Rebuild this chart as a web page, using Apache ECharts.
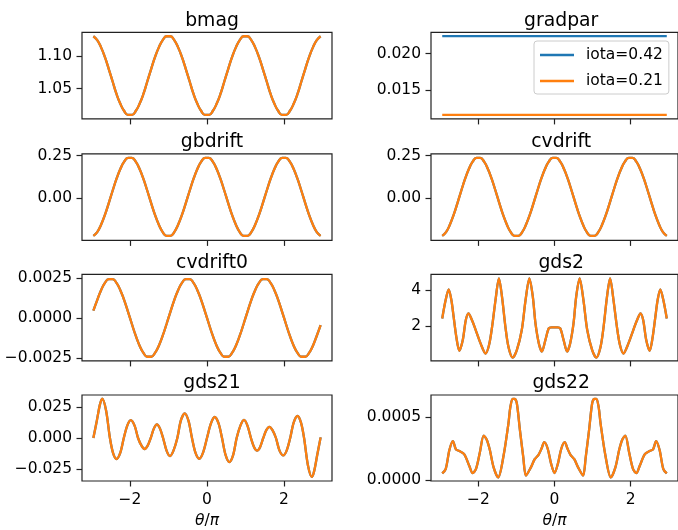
<!DOCTYPE html>
<html>
<head>
<meta charset="utf-8">
<script src="https://cdn.jsdelivr.net/npm/echarts@6/dist/echarts.min.js"></script>
<style>
html,body{margin:0;padding:0;background:#fff}
#chart{width:678px;height:530px}
</style>
</head>
<body>
<div id="chart"></div>
<script>
// theta/pi grid for the smooth panels
const theta = [-2.95,-2.85,-2.75,-2.65,-2.55,-2.45,-2.35,-2.25,-2.15,-2.05,-1.95,-1.85,-1.75,-1.65,-1.55,-1.45,-1.35,-1.25,-1.15,-1.05,
  -0.95,-0.85,-0.75,-0.65,-0.55,-0.45,-0.35,-0.25,-0.15,-0.05,0.05,0.15,0.25,0.35,0.45,0.55,0.65,0.75,0.85,0.95,
  1.05,1.15,1.25,1.35,1.45,1.55,1.65,1.75,1.85,1.95,2.05,2.15,2.25,2.35,2.45,2.55,2.65,2.75,2.85,2.95];

const bmag = [1.130,1.124,1.113,1.098,1.080,1.061,1.042,1.027,1.016,1.010,1.010,1.016,1.027,1.042,1.061,1.080,1.098,1.113,1.124,1.130,
  1.130,1.124,1.113,1.098,1.080,1.061,1.042,1.027,1.016,1.010,1.010,1.016,1.027,1.042,1.061,1.080,1.098,1.113,1.124,1.130,
  1.130,1.124,1.113,1.098,1.080,1.061,1.042,1.027,1.016,1.010,1.010,1.016,1.027,1.042,1.061,1.080,1.098,1.113,1.124,1.130];

const gbdrift = [-0.220,-0.198,-0.155,-0.097,-0.028,0.044,0.113,0.171,0.214,0.236,0.236,0.214,0.171,0.113,0.044,-0.028,-0.097,-0.155,-0.198,-0.220,
  -0.220,-0.198,-0.155,-0.097,-0.028,0.044,0.113,0.171,0.214,0.236,0.236,0.214,0.171,0.113,0.044,-0.028,-0.097,-0.155,-0.198,-0.220,
  -0.220,-0.198,-0.155,-0.097,-0.028,0.044,0.113,0.171,0.214,0.236,0.236,0.214,0.171,0.113,0.044,-0.028,-0.097,-0.155,-0.198,-0.220];

const cvdrift = [-0.220,-0.198,-0.155,-0.097,-0.028,0.044,0.113,0.171,0.214,0.236,0.236,0.214,0.171,0.113,0.044,-0.028,-0.097,-0.155,-0.198,-0.220,
  -0.220,-0.198,-0.155,-0.097,-0.028,0.044,0.113,0.171,0.214,0.236,0.236,0.214,0.171,0.113,0.044,-0.028,-0.097,-0.155,-0.198,-0.220,
  -0.220,-0.198,-0.155,-0.097,-0.028,0.044,0.113,0.171,0.214,0.236,0.236,0.214,0.171,0.113,0.044,-0.028,-0.097,-0.155,-0.198,-0.220];

const cvdrift0 = [0.00045,0.00111,0.00173,0.00218,0.00242,0.00242,0.00218,0.00173,0.00111,0.00038,-0.00038,-0.00111,-0.00173,-0.00218,-0.00242,-0.00242,-0.00218,-0.00173,-0.00111,-0.00038,
  0.00038,0.00111,0.00173,0.00218,0.00242,0.00242,0.00218,0.00173,0.00111,0.00038,-0.00038,-0.00111,-0.00173,-0.00218,-0.00242,-0.00242,-0.00218,-0.00173,-0.00111,-0.00038,
  0.00038,0.00111,0.00173,0.00218,0.00242,0.00242,0.00218,0.00173,0.00111,0.00038,-0.00038,-0.00111,-0.00173,-0.00218,-0.00242,-0.00242,-0.00218,-0.00173,-0.00111,-0.00045];

// gradpar is flat, differs between the two iota cases
const gradparTheta = [-2.95, 2.95];
const gradparHigh = [0.0224, 0.0224];   // iota=0.42
const gradparLow = [0.01155, 0.01155];  // iota=0.21

const gds2Theta = [-2.95,-2.86,-2.78,-2.71,-2.65,-2.58,-2.50,-2.41,-2.33,-2.26,-2.17,-2.07,-1.94,-1.81,-1.72,-1.64,-1.55,-1.46,-1.38,-1.29,-1.21,-1.10,-0.99,-0.86,-0.76,-0.66,-0.57,-0.50,-0.41,-0.33,-0.24,-0.15,-0.08,
  0,0.08,0.15,0.24,0.33,0.41,0.50,0.57,0.66,0.76,0.86,0.99,1.10,1.21,1.29,1.38,1.46,1.55,1.64,1.72,1.81,1.94,2.07,2.17,2.26,2.33,2.41,2.50,2.58,2.65,2.71,2.78,2.86,2.95];
const gds2 = [2.41,3.44,4.04,3.44,2.50,1.38,0.60,1.20,2.32,2.69,2.32,1.76,1.00,0.45,0.92,1.94,3.44,4.65,3.63,1.94,0.82,0.22,0.64,1.76,3.44,4.65,3.63,2.13,1.00,0.56,1.20,1.86,1.91,
  1.91,1.91,1.86,1.20,0.56,1.00,2.13,3.63,4.65,3.44,1.76,0.64,0.22,0.82,1.94,3.63,4.65,3.44,1.94,0.92,0.45,1.00,1.76,2.32,2.69,2.32,1.20,0.60,1.38,2.50,3.44,4.04,3.44,2.41];

const gds21Theta = [-2.95,-2.86,-2.78,-2.72,-2.62,-2.52,-2.44,-2.35,-2.25,-2.16,-2.07,-1.98,-1.88,-1.79,-1.70,-1.62,-1.54,-1.46,-1.38,-1.30,-1.22,-1.14,-1.05,-0.96,-0.87,-0.77,-0.68,-0.58,-0.48,-0.39,-0.30,-0.20,-0.10,
  0,0.10,0.20,0.30,0.39,0.48,0.58,0.68,0.77,0.87,0.96,1.05,1.14,1.22,1.30,1.38,1.46,1.54,1.62,1.70,1.79,1.88,1.98,2.07,2.16,2.25,2.35,2.44,2.52,2.62,2.72,2.78,2.86,2.95];
const gds21 = [0,0.0140,0.0270,0.0318,0.0222,0,-0.0120,-0.0170,-0.0118,0,0.0100,0.0144,0.0100,0,-0.0062,-0.0089,-0.0062,0,0.0076,0.0110,0.0076,0,-0.0102,-0.0146,-0.0102,0,0.0140,0.0199,0.0138,0,-0.0118,-0.0168,-0.0116,
  0,0.0116,0.0170,0.0118,0,-0.0135,-0.0195,-0.0136,0,0.0102,0.0146,0.0100,0,-0.0072,-0.0102,-0.0072,0,0.0064,0.0090,0.0064,0,-0.0100,-0.0141,-0.0100,0,0.0124,0.0178,0.0124,0,-0.0220,-0.0314,-0.0270,-0.0140,0.0005];

const gds22Theta = [-2.95,-2.86,-2.76,-2.67,-2.59,-2.50,-2.37,-2.24,-2.15,-2.06,-1.96,-1.86,-1.78,-1.70,-1.60,-1.48,-1.34,-1.21,-1.16,-1.10,-1.05,-0.99,-0.91,-0.82,-0.75,-0.62,-0.52,-0.42,-0.34,-0.27,-0.18,-0.09,
  0,0.09,0.18,0.27,0.34,0.42,0.52,0.62,0.75,0.82,0.91,0.99,1.05,1.10,1.16,1.21,1.34,1.48,1.60,1.70,1.78,1.86,1.96,2.06,2.15,2.24,2.37,2.50,2.59,2.67,2.76,2.86,2.95];
const gds22 = [0.000052,0.000086,0.00024,0.000309,0.000243,0.00023,0.000204,0.000113,0.000055,0.00009,0.00022,0.000353,0.00032,0.00024,0.00010,0.00002,0.00019,0.00045,0.00058,0.000645,0.000645,0.00061,0.00040,0.00018,0.000035,0.00010,0.000165,0.00020,0.00025,0.00030,0.00025,0.00013,
  0.000055,0.00013,0.00025,0.00030,0.00025,0.00020,0.000165,0.00010,0.000035,0.00018,0.00040,0.00061,0.000645,0.000645,0.00058,0.00045,0.00019,0.00002,0.00010,0.00024,0.00032,0.000353,0.00022,0.00009,0.000055,0.000113,0.000204,0.00023,0.000243,0.000309,0.00024,0.000086,0.000052];

// tick values and their labels
const xTicks = [-2, 0, 2];
const xTickLabels = ['\u22122', '0', '2'];
const bmagTicks = [1.05, 1.10], bmagLabels = ['1.05', '1.10'];
const gradparTicks = [0.015, 0.020], gradparLabels = ['0.015', '0.020'];
const driftTicks = [0, 0.25], driftLabels = ['0.00', '0.25'];
const cvdrift0Ticks = [-0.0025, 0, 0.0025], cvdrift0Labels = ['\u22120.0025', '0.0000', '0.0025'];
const gds2Ticks = [2, 4], gds2Labels = ['2', '4'];
const gds21Ticks = [-0.025, 0, 0.025], gds21Labels = ['\u22120.025', '0.000', '0.025'];
const gds22Ticks = [0, 0.0005], gds22Labels = ['0.0000', '0.0005'];

const seriesNames = ['iota=0.42', 'iota=0.21'];
const colors = ['#1f77b4', '#ff7f0e'];

const pairs = (xs, ys) => xs.map((x, i) => [x, ys[i]]);

// one entry per subplot, row by row
const panels = [
  {name: 'bmag', a: pairs(theta, bmag), b: pairs(theta, bmag), min: 1.0040, max: 1.1360, ticks: bmagTicks, labels: bmagLabels, smooth: true},
  {name: 'gradpar', a: pairs(gradparTheta, gradparHigh), b: pairs(gradparTheta, gradparLow), min: 0.01101, max: 0.02292, ticks: gradparTicks, labels: gradparLabels, smooth: false},
  {name: 'gbdrift', a: pairs(theta, gbdrift), b: pairs(theta, gbdrift), min: -0.2465, max: 0.260, ticks: driftTicks, labels: driftLabels, smooth: true},
  {name: 'cvdrift', a: pairs(theta, cvdrift), b: pairs(theta, cvdrift), min: -0.2465, max: 0.260, ticks: driftTicks, labels: driftLabels, smooth: true},
  {name: 'cvdrift0', a: pairs(theta, cvdrift0), b: pairs(theta, cvdrift0), min: -0.00268, max: 0.00272, ticks: cvdrift0Ticks, labels: cvdrift0Labels, smooth: true},
  {name: 'gds2', a: pairs(gds2Theta, gds2), b: pairs(gds2Theta, gds2), min: 0.035, max: 4.88, ticks: gds2Ticks, labels: gds2Labels, smooth: 0.3},
  {name: 'gds21', a: pairs(gds21Theta, gds21), b: pairs(gds21Theta, gds21), min: -0.0348, max: 0.0348, ticks: gds21Ticks, labels: gds21Labels, smooth: 0.3},
  {name: 'gds22', a: pairs(gds22Theta, gds22), b: pairs(gds22Theta, gds22), min: -0.000008, max: 0.000675, ticks: gds22Ticks, labels: gds22Labels, smooth: 0.3}
];

const font = 'DejaVu Sans';
const colLeft = [82, 431];
const colWidth = [250, 251];
const rowTop = [32.3, 153.8, 274.3, 395];
const rowHeight = 86.6;

const grids = [], xAxes = [], yAxes = [], series = [], titles = [];
panels.forEach((p, i) => {
  const row = Math.floor(i / 2), col = i % 2;
  const bottomRow = row === 3;
  grids.push({
    left: colLeft[col], top: rowTop[row], width: colWidth[col], height: rowHeight,
    show: true, borderColor: '#222', borderWidth: 1.2, backgroundColor: 'transparent'
  });
  xAxes.push({
    type: 'value', gridIndex: i, min: -3.245, max: 3.245, position: 'bottom',
    axisLine: {show: false, onZero: false}, splitLine: {show: false},
    axisTick: {show: true, length: 5.5, customValues: xTicks, lineStyle: {color: '#222', width: 1.2}},
    axisLabel: {
      show: bottomRow, customValues: xTicks, margin: 11, color: '#000', fontFamily: font, fontSize: 15.5,
      formatter: v => xTickLabels[xTicks.indexOf(v)]
    },
    name: bottomRow ? '{i|\u03b8}/{i|\u03c0}' : '', nameLocation: 'middle', nameGap: 32,
    nameTextStyle: {color: '#000', fontFamily: font, fontSize: 15.5, rich: {i: {fontStyle: 'italic', fontFamily: font, fontSize: 15.5, color: '#000'}}}
  });
  yAxes.push({
    type: 'value', gridIndex: i, min: p.min, max: p.max, position: 'left',
    axisLine: {show: false, onZero: false}, splitLine: {show: false},
    axisTick: {show: true, length: 5.5, customValues: p.ticks, lineStyle: {color: '#222', width: 1.2}},
    axisLabel: {
      customValues: p.ticks, margin: 10, color: '#000', fontFamily: font, fontSize: 15.5,
      formatter: v => {
        const k = p.ticks.findIndex(t => Math.abs(t - v) < 1e-12);
        return k < 0 ? '' : p.labels[k];
      }
    }
  });
  [p.a, p.b].forEach((data, s) => {
    series.push({
      name: seriesNames[s], type: 'line', xAxisIndex: i, yAxisIndex: i, data: data,
      symbol: 'none', smooth: p.smooth, color: colors[s],
      lineStyle: {width: 2.3, color: colors[s]}, silent: true
    });
  });
  titles.push({
    text: p.name, left: colLeft[col] + colWidth[col] / 2 - (col === 1 ? 0.3 : 0), top: rowTop[row] - 26,
    textAlign: 'center',
    textStyle: {fontFamily: font, fontSize: 18.8, fontWeight: 'normal', color: '#000'}
  });
});

const chart = echarts.init(document.getElementById('chart'), null, {renderer: 'canvas'});
chart.setOption({
  animation: false,
  backgroundColor: '#fff',
  title: titles,
  grid: grids,
  xAxis: xAxes,
  yAxis: yAxes,
  series: series,
  legend: {
    data: seriesNames.map(n => ({name: n, icon: 'rect'})), orient: 'vertical', left: 534, top: 41,
    itemWidth: 34, itemHeight: 2.4, itemGap: 10, selectedMode: false,
    padding: [6, 6, 5, 6], borderColor: '#cccccc', borderWidth: 1, borderRadius: 3,
    backgroundColor: 'rgba(255,255,255,0.8)',
    textStyle: {fontFamily: font, fontSize: 15.5, color: '#000', padding: [0, 0, 0, 7], lineHeight: 16}
  }
});
</script>
</body>
</html>
